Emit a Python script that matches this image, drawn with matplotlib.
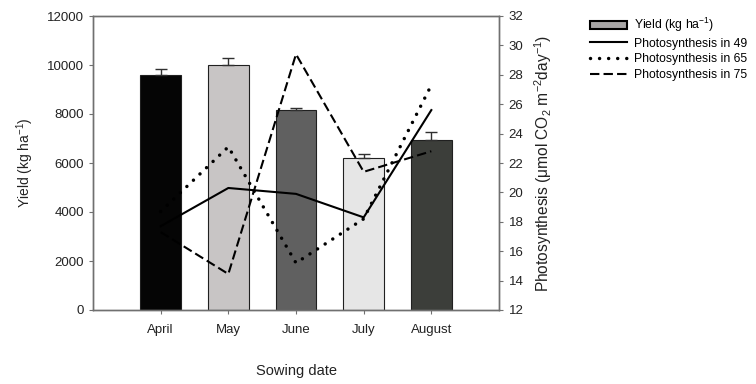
import numpy as np
import matplotlib.pyplot as plt
from matplotlib.patches import Patch
from matplotlib.lines import Line2D

plt.rcParams['font.family'] = ['Liberation Sans', 'DejaVu Sans']
plt.rcParams['mathtext.default'] = 'regular'

# datos
meses = ["April", "May", "June", "July", "August"]
rendimiento = [9600, 10000, 8150, 6200, 6950]
error_rend = [250, 300, 80, 160, 330]
colores_barras = ["#050505", "#c8c5c5", "#606060", "#e6e6e6", "#3c3e3a"]

foto_49 = [17.7, 20.3, 19.9, 18.3, 25.6]
foto_65 = [18.7, 23.1, 15.2, 18.2, 27.3]
foto_75 = [17.3, 14.45, 29.4, 21.4, 22.8]

gris = "#707070"

fig = plt.figure(figsize=(7.56, 3.84), dpi=100)
ax1 = fig.add_axes([93 / 756, 1 - 310 / 384, 406 / 756, 294 / 384])
ax2 = ax1.twinx()

x = np.arange(len(meses))

ax1.bar(x, rendimiento, width=0.6, color=colores_barras, edgecolor="#202020", linewidth=0.8,
        yerr=[np.zeros(len(error_rend)), error_rend],
        error_kw=dict(ecolor="#303030", elinewidth=1, capsize=4, capthick=1))
ax1.set_xlim(-1, 5)
ax1.set_ylim(0, 12000)
ax1.set_yticks(np.arange(0, 12001, 2000))
ax1.set_xticks(x)
ax1.set_xticklabels(meses, fontsize=9.5)
ax1.tick_params(axis="y", labelsize=9.5, colors="#222222", length=3, color=gris)
ax1.tick_params(axis="x", length=3, color=gris, colors="#222222", pad=7)
ax1.set_ylabel("Yield (kg ha$^{-1}$)", fontsize=10, color="#222222", labelpad=8)
ax1.set_xlabel("Sowing date", fontsize=10.5, color="#222222", labelpad=20)

# lineas de fotosintesis
ax2.plot(x, foto_49, color="black", linewidth=1.5, linestyle="-")
ax2.plot(x, foto_65, color="black", linewidth=2.5, linestyle=(0, (0.01, 2.6)),
         dash_capstyle="round")
ax2.plot(x, foto_75, color="black", linewidth=1.5, linestyle=(0, (4.5, 2.0)))
ax2.set_ylim(12, 32)
ax2.set_yticks(np.arange(12, 33, 2))
ax2.tick_params(axis="y", labelsize=9.5, colors="#222222", length=3, color=gris, pad=4)
ax2.set_ylabel("Photosynthesis (μmol CO$_2$ m$^{-2}$day$^{-1}$)", fontsize=11.2,
               color="#222222", labelpad=6)

for ax in (ax1, ax2):
    for s in ax.spines.values():
        s.set_color(gris)
        s.set_linewidth(1.0)

handles = [
    Patch(facecolor="#a8a6a6", edgecolor="black", linewidth=1.5, label="Yield (kg ha$^{-1}$)"),
    Line2D([], [], color="black", linewidth=1.5, label="Photosynthesis in 49"),
    Line2D([], [], color="black", linewidth=2.5, linestyle=(0, (0.01, 2.6)),
           dash_capstyle="round", label="Photosynthesis in 65"),
    Line2D([], [], color="black", linewidth=1.5, linestyle=(0, (4.5, 2.0)),
           label="Photosynthesis in 75"),
]
fig.legend(handles=handles, loc="upper left", bbox_to_anchor=(585 / 756, 1 - 11 / 384),
           frameon=False, fontsize=8.8, handlelength=3.0, handletextpad=0.6,
           labelspacing=0.3, borderaxespad=0)

fig.savefig("out.png", dpi=100)
